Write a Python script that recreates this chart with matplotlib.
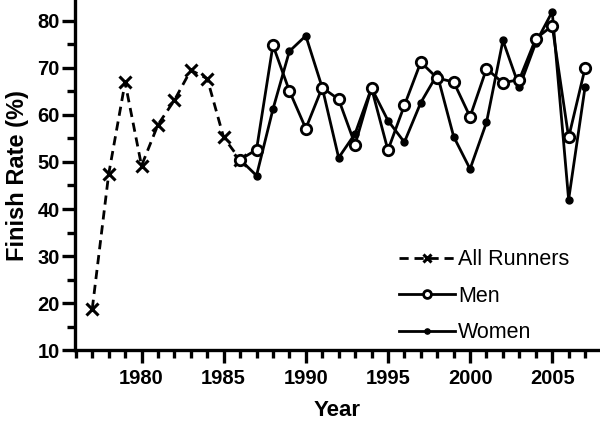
import numpy as np
import matplotlib
matplotlib.use('Agg')
from matplotlib import pyplot as plt
from matplotlib.ticker import MultipleLocator

# Finish rate data
all_years = [1977, 1978, 1979, 1980, 1981, 1982, 1983, 1984, 1985, 1986]
all_rate = [18.8, 47.4, 66.9, 49.2, 57.9, 63.1, 69.5, 67.7, 55.2, 50.5]

sex_years = list(range(1986, 2008))
men_rate = [50.5, 52.6, 74.8, 65.1, 57.1, 65.8, 63.3, 53.7, 65.7, 52.5, 62.0, 71.2,
            67.8, 67.0, 59.6, 69.8, 66.8, 67.5, 76.2, 78.9, 55.2, 69.9]
women_rate = [50.5, 47.1, 61.2, 73.5, 76.8, 65.8, 50.9, 56.0, 65.7, 58.8, 54.2, 62.6,
              68.6, 55.4, 48.5, 58.4, 75.8, 65.9, 75.3, 81.9, 42.0, 65.9]

plt.rcParams['font.family'] = ['Liberation Sans', 'DejaVu Sans']

fig = plt.figure(figsize=(6.0, 4.22), dpi=100)
ax = fig.add_axes([0.125, 0.17, 0.872, 0.83])

lw = 2.0
h_all, = ax.plot(all_years, all_rate, c='k', linestyle=(0, (3.3, 2.1)), linewidth=lw, marker='x',
                 markersize=8, markeredgewidth=2.2, label='All Runners')
h_women, = ax.plot(sex_years, women_rate, c='k', linewidth=lw, marker='o', markersize=5,
                   markerfacecolor='k', markeredgewidth=1.0, label='Women')
h_men, = ax.plot(sex_years, men_rate, c='k', linewidth=lw, marker='o', markersize=7.5,
                 markerfacecolor='white', markeredgewidth=2.0, label='Men')

ax.set_xlim(1975.95, 2007.8)
ax.set_ylim(10, 84.4)

ax.spines['top'].set_visible(False)
ax.spines['right'].set_visible(False)
ax.spines['left'].set_linewidth(2.4)
ax.spines['bottom'].set_linewidth(2.4)

ax.xaxis.set_major_locator(MultipleLocator(5))
ax.xaxis.set_minor_locator(MultipleLocator(1))
ax.yaxis.set_major_locator(MultipleLocator(10))
ax.yaxis.set_minor_locator(MultipleLocator(5))
ax.tick_params(which='major', direction='out', length=9.4, width=2.4, labelsize=14.5, pad=1.5)
ax.tick_params(which='minor', direction='out', length=5.5, width=2.4)
ax.tick_params(axis='x', which='major', pad=4)
for lab in ax.get_xticklabels() + ax.get_yticklabels():
    lab.set_fontweight('bold')

ax.set_xlabel('Year', size=16, fontweight='bold', labelpad=8.5)
ax.set_ylabel('Finish Rate (%)', size=17, fontweight='bold', labelpad=6)

ax.legend(handles=[h_all, h_men, h_women], loc='lower left', bbox_to_anchor=(0.619, 0.02),
          frameon=False, fontsize=15.5, handlelength=2.6, handletextpad=0.15,
          labelspacing=0.72, borderaxespad=0.0, borderpad=0.0, markerscale=0.75)

plt.savefig('out.png', dpi=100)
plt.close(fig)
